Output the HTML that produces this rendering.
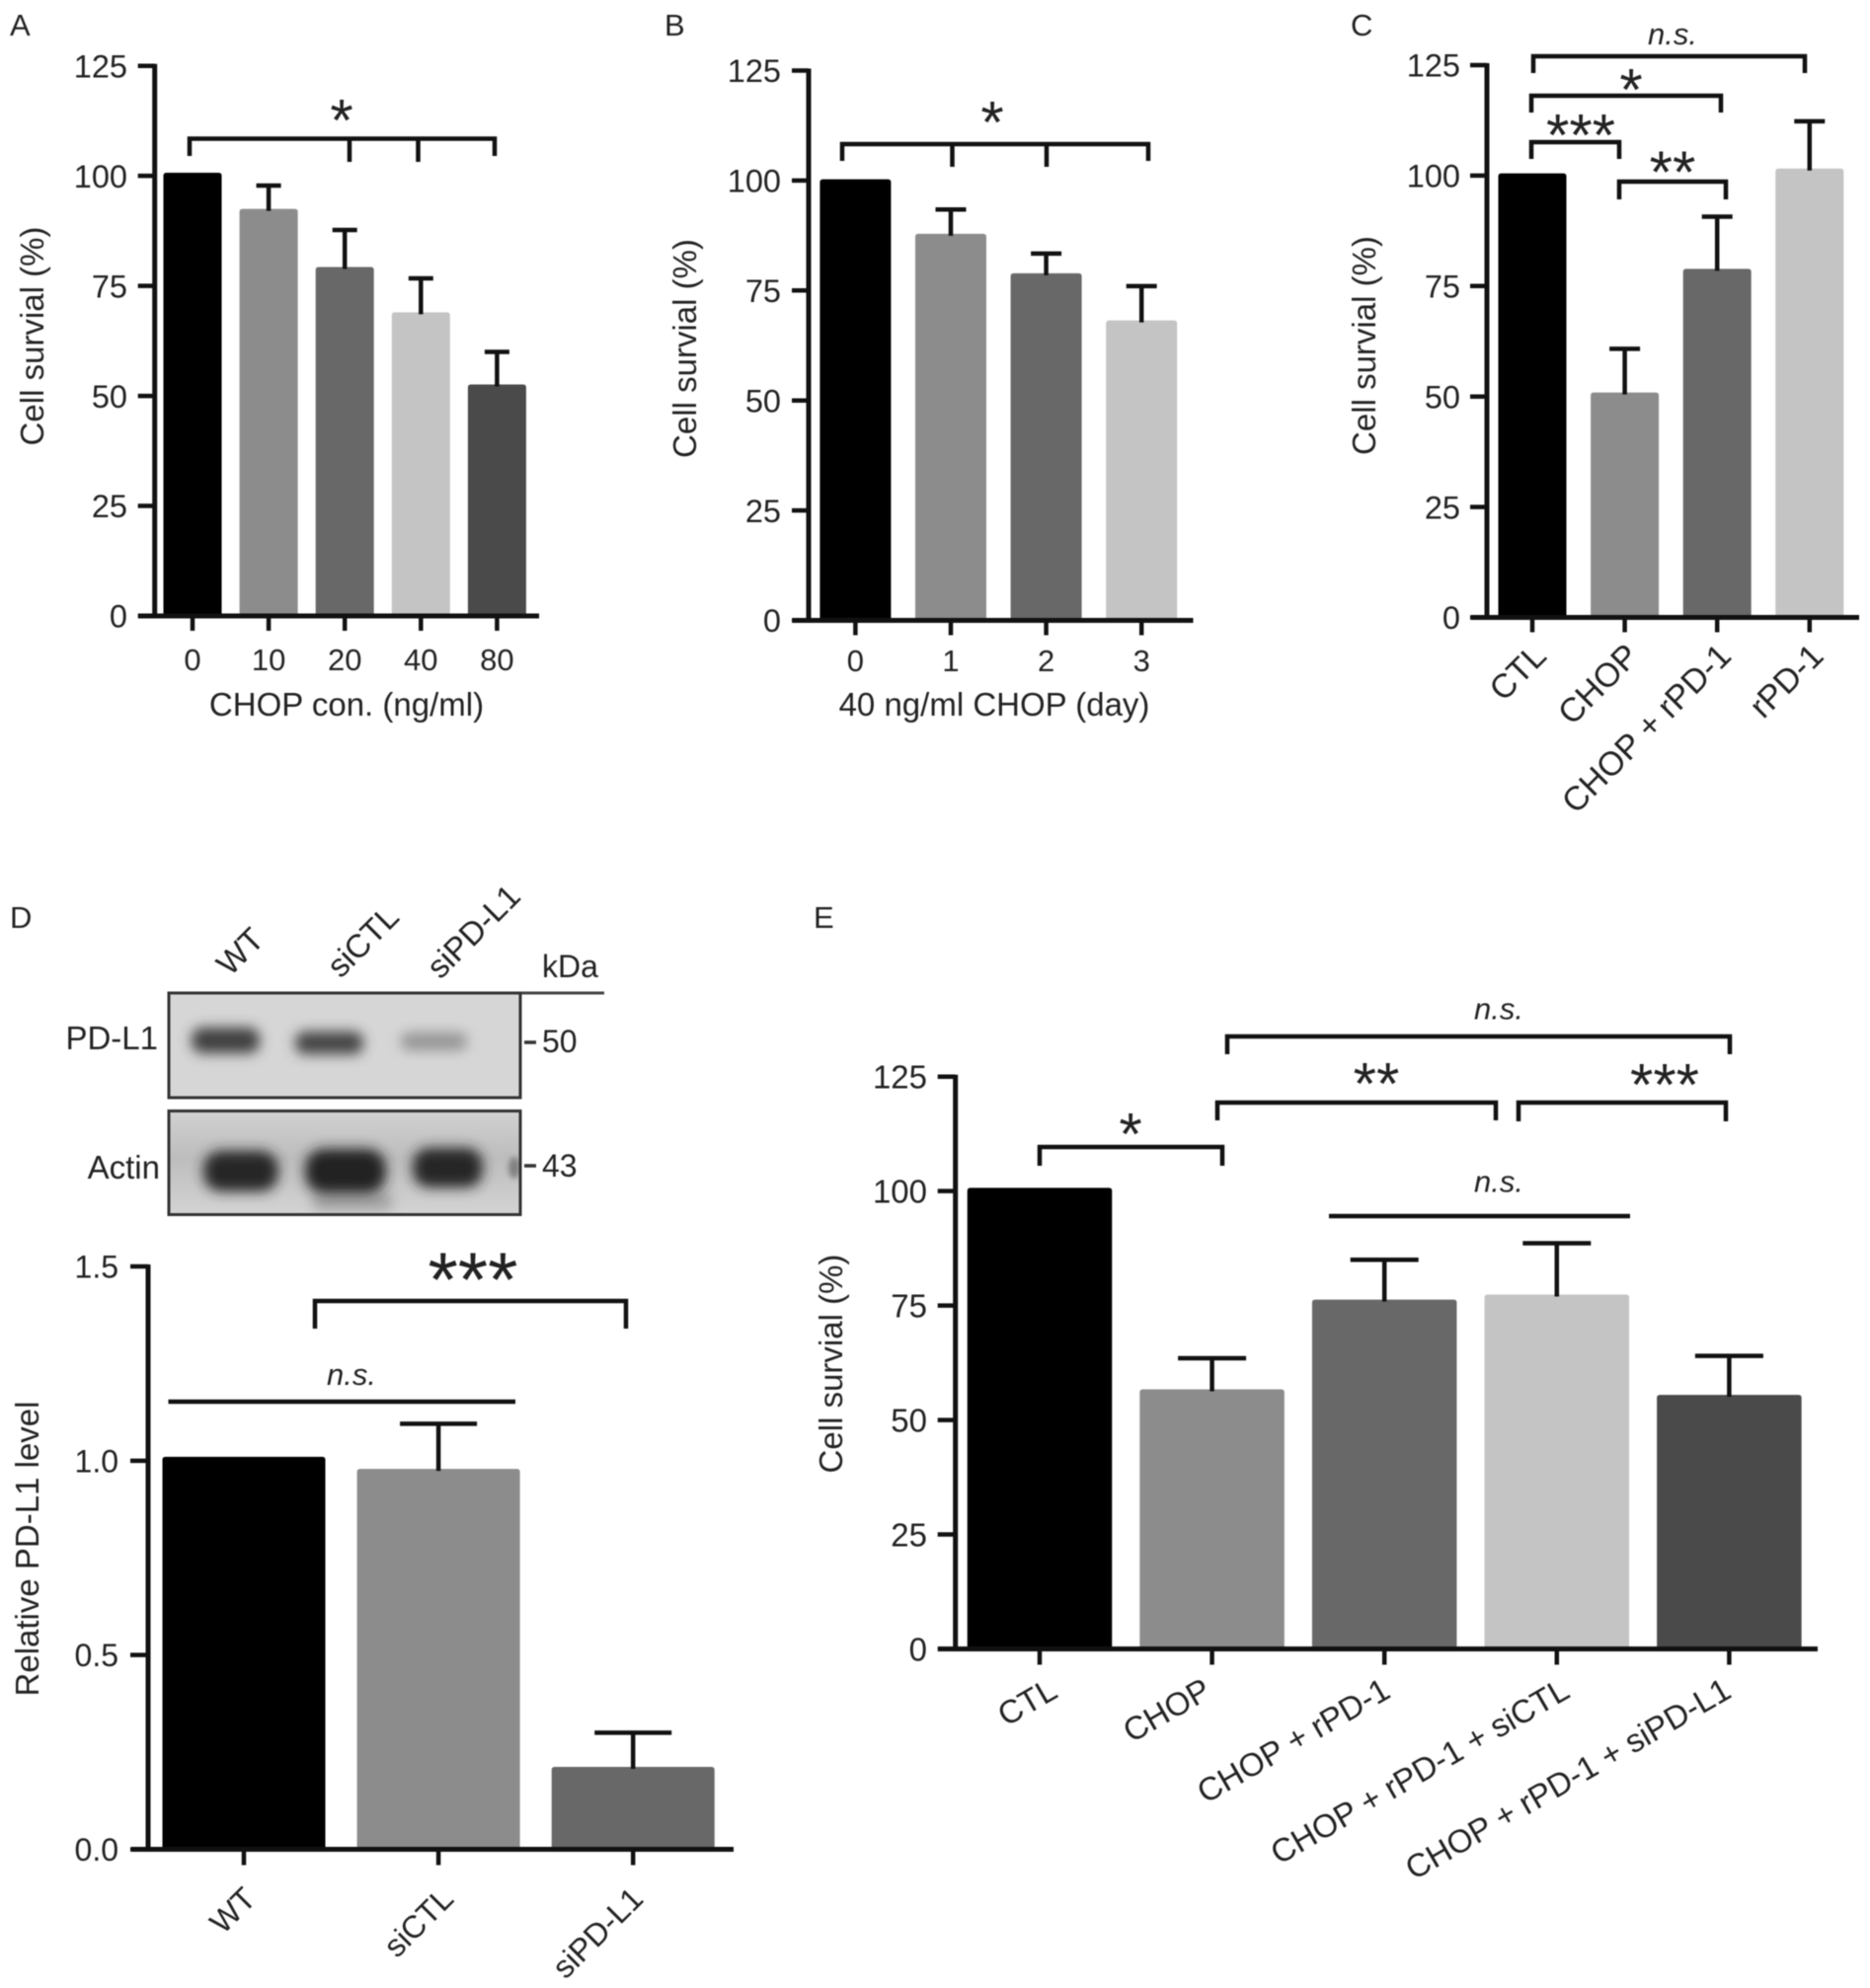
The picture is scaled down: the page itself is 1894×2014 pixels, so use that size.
<!DOCTYPE html>
<html lang="en">
<head>
<meta charset="utf-8">
<title>Cell survival and PD-L1 figure</title>
<style>
html,body{margin:0;padding:0;background:#fff;width:1894px;height:2014px;overflow:hidden}
svg{display:block;filter:blur(0.6px)}
text{font-family:"Liberation Sans",Arial,sans-serif;fill:#222}
.br{fill:none;stroke:#111;stroke-width:4.5}
.star{font-size:60px;text-anchor:middle;fill:#222}
.ns{font-size:31px;font-style:italic;text-anchor:middle}
.pl{font-size:31px}
.wb{font-size:32px}
.wl{font-size:33px}
</style>
</head>
<body>
<svg id="figure" xmlns="http://www.w3.org/2000/svg" width="1894" height="2014" viewBox="0 0 1894 2014">
<defs>
<filter id="blur5" x="-30%" y="-60%" width="160%" height="220%"><feGaussianBlur stdDeviation="6.5"/></filter>
<filter id="blur3" x="-50%" y="-50%" width="200%" height="200%"><feGaussianBlur stdDeviation="3"/></filter>
<linearGradient id="actin-bg" x1="0" y1="0" x2="0" y2="1"><stop offset="0" stop-color="#d2d2d2"/><stop offset="0.45" stop-color="#bdbdbd"/><stop offset="1" stop-color="#d4d4d4"/></linearGradient>
<clipPath id="clip-pd"><rect x="170" y="1005" width="358" height="108"/></clipPath>
<clipPath id="clip-actin"><rect x="170" y="1125" width="358" height="106"/></clipPath>
</defs>

<text class="pl" x="10" y="36">A</text>
<text class="pl" x="673" y="36">B</text>
<text class="pl" x="1368" y="36">C</text>
<text class="pl" x="10" y="940">D</text>
<text class="pl" x="824" y="940">E</text>

<g id="plot-a"></g>
<g id="plot-b"></g>
<g id="plot-c"></g>
<g id="plot-d"></g>
<g id="plot-e"></g>

<!-- panel A annotation -->
<path class="br" d="M192 158V140.500H501V158M354 140.500V164M423.500 140.500V164"/>
<text class="star" x="346" y="142.500">*</text>

<!-- panel B annotation -->
<path class="br" d="M853 163V146H1163V163M964.500 146V169M1060 146V169"/>
<text class="star" x="1005" y="144.500">*</text>

<!-- panel C annotations -->
<path class="br" d="M1553 74V57H1828V74"/>
<text class="ns" x="1694" y="45">n.s.</text>
<path class="br" d="M1551 114V97H1743V114"/>
<text class="star" x="1652" y="111.500">*</text>
<path class="br" d="M1551 161V144H1640V161"/>
<text class="star" x="1601" y="157.500">***</text>
<path class="br" d="M1640 202V184H1748V202"/>
<text class="star" x="1694" y="195">**</text>

<!-- panel D blots -->
<g>
  <g clip-path="url(#clip-pd)">
    <rect x="170" y="1005" width="358" height="108" fill="#d6d6d6"/>
    <rect x="194" y="1041" width="69" height="26" rx="11" fill="#3f3f3f" filter="url(#blur5)"/>
    <rect x="299" y="1045" width="69" height="23" rx="10" fill="#444" filter="url(#blur5)"/>
    <rect x="406" y="1046" width="67" height="18" rx="8" fill="#949494" filter="url(#blur5)"/>
  </g>
  <rect x="171" y="1006" width="356" height="106" fill="none" stroke="#333" stroke-width="3"/>
  <g clip-path="url(#clip-actin)">
    <rect x="170" y="1125" width="358" height="106" fill="url(#actin-bg)"/>
    <rect x="316" y="1208" width="82" height="18" rx="9" fill="#a0a0a0" filter="url(#blur5)"/>
    <rect x="206" y="1166" width="76" height="41" rx="18" fill="#262626" filter="url(#blur5)"/>
    <rect x="309" y="1164" width="82" height="45" rx="19" fill="#222" filter="url(#blur5)"/>
    <rect x="418" y="1163" width="71" height="40" rx="17" fill="#262626" filter="url(#blur5)"/>
    <ellipse cx="521" cy="1183" rx="6" ry="11" fill="#808080" filter="url(#blur3)"/>
  </g>
  <rect x="171" y="1125.500" width="356" height="105" fill="none" stroke="#333" stroke-width="3"/>
  <path d="M528 1006H612" stroke="#444" stroke-width="3" fill="none"/>
  <path d="M531 1056H543M531 1181H543" stroke="#333" stroke-width="3.500" fill="none"/>
  <text class="wb" x="549" y="990">kDa</text>
  <text class="wb" x="549" y="1066">50</text>
  <text class="wb" x="549" y="1192">43</text>
  <text x="160" y="1063" font-size="33" text-anchor="end">PD-L1</text>
  <text x="162" y="1194" font-size="33" text-anchor="end">Actin</text>
  <text class="wl" transform="translate(233,990) rotate(-45)">WT</text>
  <text class="wl" transform="translate(345,992) rotate(-45)">siCTL</text>
  <text class="wl" transform="translate(446,993) rotate(-45)">siPD-L1</text>
</g>

<!-- panel D annotations -->
<path class="br" d="M319 1346V1318H634V1346"/>
<text class="star" style="font-size:78px" x="479" y="1323">***</text>
<path class="br" d="M170.500 1420H522"/>
<text class="ns" x="356" y="1403">n.s.</text>

<!-- panel E annotations -->
<path class="br" d="M1243 1068V1050H1752V1068"/>
<text class="ns" x="1518" y="1032.500">n.s.</text>
<path class="br" d="M1233 1135V1117H1515V1135"/>
<text class="star" x="1394" y="1118.500">**</text>
<path class="br" d="M1538 1136V1117H1748V1136"/>
<text class="star" x="1686" y="1119.500">***</text>
<path class="br" d="M1053 1181V1162H1238V1181"/>
<text class="star" x="1145" y="1169.500">*</text>
<path class="br" d="M1346 1232H1651"/>
<text class="ns" x="1518" y="1207.500">n.s.</text>
</svg>

<script>
// Panel A data
const aCategories = ['0', '10', '20', '40', '80'];
const aMeans = [100.7, 92.5, 79.3, 69, 52.6];
const aUpper = [100.7, 97.8, 87.7, 76.7, 60];
const aTicks = ['0', '25', '50', '75', '100', '125'];

// Panel B data
const bCategories = ['0', '1', '2', '3'];
const bMeans = [100.3, 87.9, 78.9, 68.2];
const bUpper = [100.3, 93.4, 83.4, 76];
const bTicks = ['0', '25', '50', '75', '100', '125'];

// Panel C data
const cCategories = ['CTL', 'CHOP', 'CHOP + rPD-1', 'rPD-1'];
const cMeans = [100.5, 50.9, 78.9, 101.6];
const cUpper = [100.5, 60.8, 90.7, 112.3];
const cTicks = ['0', '25', '50', '75', '100', '125'];

// Panel D data
const dCategories = ['WT', 'siCTL', 'siPD-L1'];
const dMeans = [1.01, 0.979, 0.212];
const dUpper = [1.01, 1.095, 0.30];
const dTicks = ['0.0', '0.5', '1.0', '1.5'];

// Panel E data
const eCategories = ['CTL', 'CHOP', 'CHOP + rPD-1', 'CHOP + rPD-1 + siCTL', 'CHOP + rPD-1 + siPD-L1'];
const eMeans = [100.7, 56.7, 76.3, 77.4, 55.5];
const eUpper = [100.7, 63.5, 85, 88.6, 64];
const eTicks = ['0', '25', '50', '75', '100', '125'];

const palette = ['#000000', '#8c8c8c', '#686868', '#c4c4c4', '#4a4a4a'];
const NS = 'http://www.w3.org/2000/svg';

function mk(parent, tag, props, txt) {
  const n = document.createElementNS(NS, tag);
  Object.keys(props).forEach(function (k) { n.setAttribute(k, props[k]); });
  if (txt !== undefined) n.textContent = txt;
  parent.appendChild(n);
  return n;
}

function drawPanel(id, cats, means, upper, ticks, g) {
  const root = document.getElementById(id);
  const xScale = function (i) { return g.x0 + i * g.dx; };
  const yScale = function (v) { return g.y0 - (v / g.max) * g.h; };

  cats.forEach(function (c, i) {
    const x = xScale(i), top = yScale(means[i]), up = yScale(upper[i]);
    const bar = mk(root, 'path', {
      d: 'M' + (x - g.bw / 2) + ' ' + g.y0 + 'V' + (top + 3) + 'Q' + (x - g.bw / 2) + ' ' + top + ' ' + (x - g.bw / 2 + 3) + ' ' + top +
         'H' + (x + g.bw / 2 - 3) + 'Q' + (x + g.bw / 2) + ' ' + top + ' ' + (x + g.bw / 2) + ' ' + (top + 3) + 'V' + g.y0 + 'Z',
      fill: palette[i]
    });
    
    
    if (upper[i] > means[i]) {
      const err = mk(root, 'path', {
        d: 'M' + x + ' ' + (top + 2) + 'V' + up + 'M' + (x - g.cap / 2) + ' ' + up + 'H' + (x + g.cap / 2),
        fill: 'none', stroke: '#111', 'stroke-width': 4.5
      });
      
      
    }
    const t = mk(root, 'line', { x1: x, x2: x, y1: g.y0, y2: g.y0 + g.tick, stroke: '#111', 'stroke-width': 4.5 });
    
    
    const lx = x + (g.lxs ? g.lxs[i] : g.lx), ly = g.y0 + g.ly;
    const props = g.rot
      ? { transform: 'translate(' + lx + ',' + ly + ') rotate(' + g.rot + ')', 'text-anchor': 'end', 'font-size': g.cfs }
      : { x: lx, y: ly, 'text-anchor': 'middle', 'font-size': g.cfs };
    const lab = mk(root, 'text', props, c);
    
    
  });

  ticks.forEach(function (s) {
    const y = yScale(parseFloat(s));
    const t = mk(root, 'line', { x1: g.xa - g.tick - 2, x2: g.xa, y1: y, y2: y, stroke: '#111', 'stroke-width': 4.5 });
    
    
    const lab = mk(root, 'text', { x: g.tl, y: y + g.fs * 0.36, 'text-anchor': 'end', 'font-size': g.fs }, s);
    
    
  });

  const ya = mk(root, 'line', { x1: g.xa, x2: g.xa, y1: g.y0 - g.h - 2, y2: g.y0 + 2, stroke: '#111', 'stroke-width': 5 });
  
  
  const xa = mk(root, 'line', { x1: g.xl, x2: g.xr, y1: g.y0, y2: g.y0, stroke: '#111', 'stroke-width': 5 });
  
  

  const yt = mk(root, 'text', {
    transform: 'translate(' + g.ytx + ',' + g.yty + ') rotate(-90)',
    'text-anchor': 'middle', 'font-size': g.ytfs
  }, g.yTitle);
  
  

  if (g.xTitle) {
    const xt = mk(root, 'text', { x: g.xtx, y: g.xty, 'text-anchor': 'middle', 'font-size': 33 }, g.xTitle);
    
    
  }
}

drawPanel('plot-a', aCategories, aMeans, aUpper, aTicks, {
  x0: 195, dx: 77.1, bw: 59, y0: 624, h: 557.3, max: 125, cap: 25, tick: 15,
  xa: 156.7, xl: 140, xr: 546, tl: 129, fs: 32.5, cfs: 31, lx: 0, ly: 55, rot: 0,
  ytx: 44, yty: 340.5, ytfs: 33, yTitle: 'Cell survial (%)',
  xTitle: 'CHOP con. (ng/ml)', xtx: 351, xty: 725
});
drawPanel('plot-b', bCategories, bMeans, bUpper, bTicks, {
  x0: 866.4, dx: 96.6, bw: 72, y0: 628.5, h: 557, max: 125, cap: 31, tick: 15,
  xa: 819, xl: 802.5, xr: 1208.5, tl: 791, fs: 32.5, cfs: 31, lx: 0, ly: 51.5, rot: 0,
  ytx: 705, yty: 353, ytfs: 33, yTitle: 'Cell survial (%)',
  xTitle: '40 ng/ml CHOP (day)', xtx: 1007, xty: 725
});
drawPanel('plot-c', cCategories, cMeans, cUpper, cTicks, {
  x0: 1552, dx: 93.6, bw: 69, y0: 625.5, h: 559.5, max: 125, cap: 31, tick: 15,
  xa: 1506, xl: 1490, xr: 1883, tl: 1479, fs: 32.5, cfs: 34, lx: 16, ly: 41, rot: -45,
  ytx: 1393, yty: 350, ytfs: 33, yTitle: 'Cell survial (%)'
});
drawPanel('plot-d', dCategories, dMeans, dUpper, dTicks, {
  x0: 247, dx: 197.1, bw: 165, y0: 1873.5, h: 590.5, max: 1.5, cap: 78, tick: 16,
  xa: 150, xl: 133, xr: 743, tl: 120, fs: 32, cfs: 32, lxs: [14, 17, 12], ly: 52, rot: -45,
  ytx: 39, yty: 1569, ytfs: 33, yTitle: 'Relative PD-L1 level'
});
drawPanel('plot-e', eCategories, eMeans, eUpper, eTicks, {
  x0: 1053, dx: 174.6, bw: 146.5, y0: 1670.5, h: 579.8, max: 125, cap: 69, tick: 16,
  xa: 967.7, xl: 950, xr: 1841, tl: 939, fs: 33, cfs: 33, lxs: [20, 1, 8, 15, 4], ly: 48, rot: -30,
  ytx: 853, yty: 1381.5, ytfs: 33, yTitle: 'Cell survial (%)'
});
</script>
</body>
</html>
